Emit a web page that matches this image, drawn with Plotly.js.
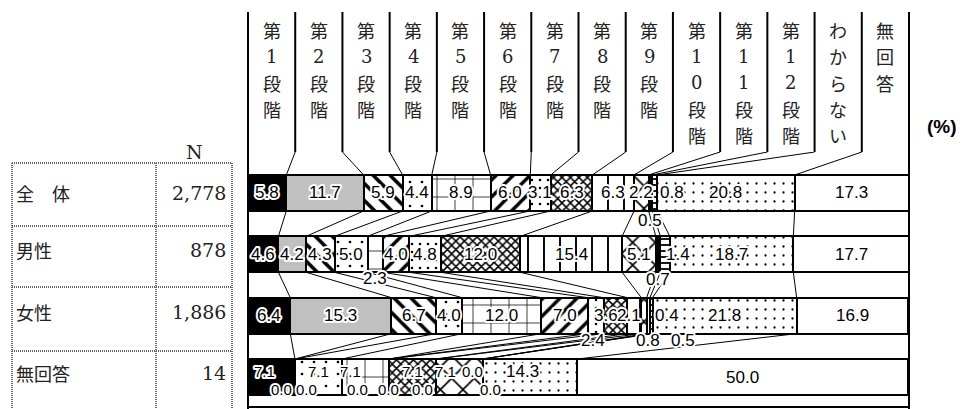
<!DOCTYPE html>
<html>
<head>
<meta charset="utf-8">
<script src="https://cdn.plot.ly/plotly-3.0.1.min.js"></script>
<style>
body{margin:0;background:#fff}
/* white halo round every label, like the glow in the original */
.annotation-text{paint-order:stroke fill;stroke:#fff;stroke-width:4px;stroke-linejoin:round}
</style>
</head>
<body>
<div id="chart" style="width:962px;height:409px"></div>
<script>
// answer categories (columns) and respondent groups (rows)
const categories = ['第1段階', '第2段階', '第3段階', '第4段階', '第5段階', '第6段階', '第7段階',
  '第8段階', '第9段階', '第10段階', '第11段階', '第12段階', 'わからない', '無回答'];
const groups = ['全　体', '男性', '女性', '無回答'];
const counts = [2778, 878, 1886, 14];

// percentages per group, same order as categories
const zentai   = [5.8, 11.7, 5.9, 4.4, 8.9, 6.0, 3.1, 6.3, 6.3, 2.2, 0.5, 0.8, 20.8, 17.3];
const dansei   = [4.6, 4.2, 4.3, 5.0, 2.3, 4.0, 4.8, 12.0, 15.4, 5.1, 0.7, 1.4, 18.7, 17.7];
const josei    = [6.4, 15.3, 6.7, 4.0, 12.0, 7.0, 2.4, 3.6, 2.1, 0.8, 0.5, 0.4, 21.8, 16.9];
const mukaitou = [7.1, 0.0, 0.0, 7.1, 7.1, 0.0, 0.0, 7.1, 0.0, 7.1, 0.0, 0.0, 14.3, 50.0];
const rows = [zentai, dansei, josei, mukaitou];

// fill for every category
const fills = [
  {color: '#000'},
  {color: '#c0c0c0'},
  {color: '#fff', pattern: {shape: '\\', size: 12, solidity: 0.3}},
  {color: '#fff', pattern: {shape: '.', size: 12, solidity: 0.04}},
  {color: '#fff', pattern: {shape: '+', size: 18, solidity: 0.08}},
  {color: '#fff', pattern: {shape: '/', size: 12, solidity: 0.28}},
  {color: '#fff', pattern: {shape: '.', size: 8, solidity: 0.08}},
  {color: '#fff', pattern: {shape: 'x', size: 6, solidity: 0.45}},
  {color: '#fff', pattern: {shape: '|', size: 16, solidity: 0.12}},
  {color: '#fff', pattern: {shape: 'x', size: 16, solidity: 0.2}},
  {color: '#fff', pattern: {shape: '|', size: 4, solidity: 0.5}},
  {color: '#fff', pattern: {shape: '-', size: 6, solidity: 0.3}},
  {color: '#fff', pattern: {shape: '.', size: 9, solidity: 0.05}},
  {color: '#fff'}
];

// label nudges in px [dx, dy], dy positive = down
const nudges = {
  '0-10': [0, 28], '0-11': [17, 0],
  '1-4': [0, 24], '1-10': [0, 25], '1-11': [13, 0],
  '2-6': [-3, 25], '2-7': [-10, 0], '2-8': [-5, 0], '2-9': [4, 25], '2-10': [35, 25], '2-11': [16, 0],
  '3-0': [-7, -6], '3-1': [-13, 12], '3-2': [12, 12], '3-3': [0, -6], '3-4': [-15, -6],
  '3-5': [-31, 12], '3-6': [0, 12], '3-7': [0, -6], '3-8': [-13, 12], '3-9': [-14, -6],
  '3-10': [-10, -6], '3-11': [8, 12], '3-12': [-7, -6]
};

// plot box in px and y range so bars land on the rows
const PL = 248, PR = 909, PT = 152, PB = 407;
const yTop = -0.668, yBot = 3.489, barW = 0.587;
const px = x => (x - PL) / (PR - PL);
const py = y => (PB - y) / (PB - PT);

const cum = rows.map(row => { let s = 0; return row.map(v => (s += v)); });

const traces = categories.map((c, k) => ({
  type: 'bar', orientation: 'h', name: c,
  y: rows.map((_, r) => r),
  x: rows.map(row => row[k]),
  width: barW,
  marker: {
    color: fills[k].color,
    line: {color: '#000', width: 2},
    pattern: fills[k].pattern ? Object.assign({fgcolor: '#000', bgcolor: '#fff', fillmode: 'replace'}, fills[k].pattern) : {shape: ''}
  },
  hoverinfo: 'name+x'
}));

const shapes = [];
const annotations = [];
const line = (o, w, col, dash) => shapes.push(Object.assign({type: 'line', layer: 'above', line: {color: col || '#000', width: w, dash: dash || 'solid'}}, o));
const note = o => annotations.push(Object.assign({showarrow: false, xanchor: 'center', yanchor: 'middle'}, o));

// header column dividers (outer ones run down as plot border)
const nCol = categories.length;
for (let k = 0; k <= nCol; k++) {
  const outer = k === 0 || k === nCol;
  line({xref: 'paper', yref: 'paper', x0: k / nCol, x1: k / nCol, y0: py(12), y1: outer ? py(409) : 1}, 2);
}
line({xref: 'paper', yref: 'paper', x0: 0, x1: 1, y0: 0, y1: 0}, 2);

// leader lines: header divider -> first bar, then bar to bar
for (let k = 1; k < nCol; k++) {
  line({xref: 'x', yref: 'y', x0: k * 100 / nCol, y0: yTop, x1: cum[0][k - 1], y1: -barW / 2}, 1);
  for (let r = 0; r < rows.length - 1; r++) {
    line({xref: 'x', yref: 'y', x0: cum[r][k - 1], y0: r + barW / 2, x1: cum[r + 1][k - 1], y1: r + 1 - barW / 2}, 1);
  }
}

// header texts, one char per line
const cjk = {family: 'Noto Sans CJK JP, sans-serif', size: 18, color: '#222'};
const serif = {family: 'DejaVu Serif, serif', size: 18, color: '#222'};
categories.forEach((c, k) => {
  Array.from(c).forEach((ch, i) => {
    note({xref: 'paper', yref: 'paper', x: (k + 0.5) / nCol, y: py(30 + i * 26.3), text: ch,
      font: /[0-9]/.test(ch) ? serif : cjk});
  });
});
note({xref: 'paper', yref: 'paper', x: px(942), y: py(127), text: '(%)',
  font: {family: 'Liberation Sans, Arial, sans-serif', size: 19, weight: 'bold', color: '#000'}});

// value labels (small ones in the crowded last row a bit smaller)
rows.forEach((row, r) => {
  row.forEach((v, k) => {
    const n = nudges[r + '-' + k] || [0, 0];
    note({xref: 'x', yref: 'y', x: cum[r][k] - v / 2, y: r, text: v.toFixed(1),
      xshift: n[0], yshift: -n[1],
      font: {family: 'Liberation Sans, Arial, sans-serif', size: r === 3 && v < 10 ? 15 : 17, color: '#000'}});
  });
});

// left table
const tcol = '#666';
[163, 226, 287, 351].forEach(y => line({xref: 'paper', yref: 'paper', x0: px(12), x1: px(232), y0: py(y), y1: py(y)}, 2, tcol, '1px,1px'));
[12, 156, 232].forEach(x => line({xref: 'paper', yref: 'paper', x0: px(x), x1: px(x), y0: py(163), y1: py(412)}, 2, tcol, '1px,1px'));
note({xref: 'paper', yref: 'paper', x: px(194), y: py(152), text: 'N',
  font: {family: 'DejaVu Serif, serif', size: 19, color: '#222'}});
groups.forEach((g, r) => {
  note({xref: 'paper', yref: 'y', x: px(14), y: r, yshift: r ? 4 : 0, text: g, xanchor: 'left',
    font: {family: 'Noto Sans CJK JP, sans-serif', size: 18, color: '#222'}});
  note({xref: 'paper', yref: 'y', x: px(228), y: r, yshift: r ? 4 : 0, text: counts[r].toLocaleString('en-US'),
    xanchor: 'right', font: {family: 'DejaVu Serif, serif', size: 19, color: '#222'}});
});

const layout = {
  width: 962, height: 409,
  margin: {l: PL, r: 962 - PR, t: PT, b: 409 - PB, pad: 0},
  barmode: 'stack', bargap: 0, showlegend: false,
  xaxis: {range: [0, 100], visible: false, fixedrange: true},
  yaxis: {range: [yBot, yTop], visible: false, fixedrange: true},
  paper_bgcolor: '#fff', plot_bgcolor: '#fff',
  shapes: shapes, annotations: annotations
};

Plotly.newPlot('chart', traces, layout, {staticPlot: true});
</script>
</body>
</html>
